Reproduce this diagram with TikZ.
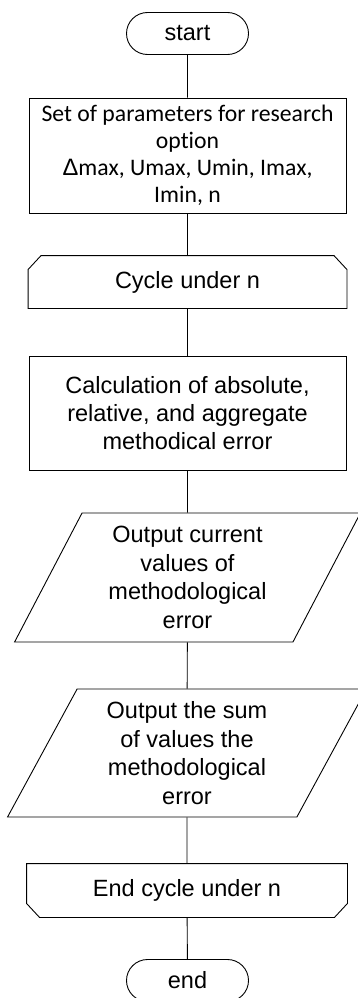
\documentclass[tikz,border=0pt]{standalone}
\usepackage{fontspec}
\setmainfont{Liberation Sans}
\newfontfamily\calibri[Ligatures=NoCommon]{Carlito}
\newfontfamily\arial{Liberation Sans}
\usepackage{tikz}
\usetikzlibrary{shapes.misc,shapes.geometric}

\begin{document}
\begin{tikzpicture}[x=1pt, y=1pt, line width=0.9pt,
			 texto/.style={align=center, font=\fontsize{23.5}{28.4}\selectfont, inner sep=0pt},
			 terminal/.style={texto, rounded rectangle, draw, minimum width=122, minimum height=42},
			 proceso/.style={texto, rectangle, draw, minimum width=317, minimum height=115},
			 ciclo/.style={texto, rectangle, minimum width=318, minimum height=52},
			 datos/.style={texto, trapezium, draw, trapezium stretches=true, trapezium left angle=63.6, trapezium right angle=116.4, minimum height=129}
  		]
	\useasboundingbox (0,0) rectangle (358,-998);

	%Creamos los bloques

		\node[terminal] (inicio) at (187.5,-33.5) {start};
		\node[proceso, font=\calibri\fontsize{23.7}{27}\selectfont] (parametros) at (187.5,-155.5) {Set of parameters for research\\option\\{\arial Δ}max, Umax, Umin, Imax,\\Imin, n};
		\node[ciclo] (ciclo) at (187.5,-282) {Cycle under n};
		\node[proceso, minimum height=114] (calculo) at (187.5,-413) {Calculation of absolute,\\relative, and aggregate\\methodical error};
		\node[datos, minimum width=347] (salida1) at (187.5,-577.5) {Output current\\values of\\methodological\\error};
		\node[datos, minimum width=360, minimum height=128] (salida2) at (187,-753) {Output the sum\\of values the\\methodological\\error};
		\node[ciclo, minimum width=320, minimum height=53] (fin ciclo) at (187,-890.5) {End cycle under n};
		\node[terminal] (fin) at (187.5,-980.5) {end};
	%Bordes de los ciclos
		\draw (ciclo.south west) -- ([yshift=-14pt]ciclo.north west) -- ([xshift=13pt]ciclo.north west) -- ([xshift=-13pt]ciclo.north east) -- ([yshift=-14pt]ciclo.north east) -- (ciclo.south east) -- cycle;
		\draw (fin ciclo.north west) -- ([yshift=14pt]fin ciclo.south west) -- ([xshift=13pt]fin ciclo.south west) -- ([xshift=-13pt]fin ciclo.south east) -- ([yshift=14pt]fin ciclo.south east) -- (fin ciclo.north east) -- cycle;
	%Lineas entre bloques
		\draw (inicio) -- (parametros);
		\draw (parametros) -- (ciclo);
		\draw (ciclo) -- (calculo);
		\draw (calculo) -- (salida1);
		\draw (salida1) -- (salida2);
		\draw (salida2) -- (fin ciclo);
		\draw (fin ciclo) -- (fin);
	\end{tikzpicture}
\end{document}
